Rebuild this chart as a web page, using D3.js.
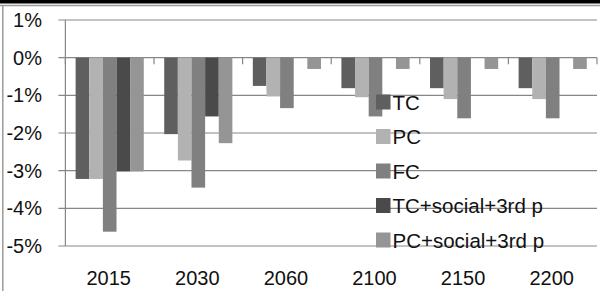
<!DOCTYPE html>
<html>
<head>
<meta charset="utf-8">
<script src="https://cdn.jsdelivr.net/npm/d3@7"></script>
<style>
  body { margin: 0; background: #fff; }
  svg { display: block; font-family: "Liberation Sans", Arial, sans-serif; }
</style>
</head>
<body>
<svg id="chart" width="600" height="291"></svg>
<script>
// data (fractions of 1)
var years = ["2015", "2030", "2060", "2100", "2150", "2200"];
var seriesNames = ["TC", "PC", "FC", "TC+social+3rd p", "PC+social+3rd p"];
var tc       = [-0.0322, -0.0203, -0.0075, -0.0081, -0.0081, -0.0081];
var pc       = [-0.0322, -0.0273, -0.0103, -0.0105, -0.0110, -0.0110];
var fc       = [-0.0462, -0.0345, -0.0134, -0.0156, -0.0161, -0.0161];
var tcSocial = [-0.0302, -0.0156, 0, 0, 0, 0];
var pcSocial = [-0.0302, -0.0227, -0.0030, -0.0030, -0.0030, -0.0030];
var yTicks = [0.01, 0, -0.01, -0.02, -0.03, -0.04, -0.05];

var seriesValues = [tc, pc, fc, tcSocial, pcSocial];
var colors = ["#5f5f5f", "#b2b2b2", "#808080", "#4a4a4a", "#959595"];

var svg = d3.select("#chart");
var plotLeft = 65.4, plotRight = 597, plotTop = 20, plotBottom = 246;

//outer frame: thick black top, thin grey lines
svg.append("rect").attr("x", 0).attr("y", 0).attr("width", 600).attr("height", 3.5).attr("fill", "#000");
svg.append("line").attr("x1", 0).attr("x2", 600).attr("y1", 5.5).attr("y2", 5.5)
    .attr("stroke", "#9a9a9a").attr("stroke-width", 1.5);
svg.append("line").attr("x1", 2.8).attr("x2", 2.8).attr("y1", 5).attr("y2", 291)
    .attr("stroke", "#9a9a9a").attr("stroke-width", 1.5);

var x = d3.scaleBand().domain(years).range([plotLeft, plotRight]).padding(0);
var xs = d3.scaleBand().domain(d3.range(seriesNames.length))
    .range([0, x.bandwidth()]).paddingInner(0).paddingOuter(0.75);
var y = d3.scaleLinear().domain([-0.05, 0.01]).range([plotBottom, plotTop]);

//gridlines
svg.append("g").selectAll("line")
    .data(yTicks)
    .enter().append("line")
    .attr("x1", plotLeft - 7).attr("x2", plotRight)
    .attr("y1", function(d) { return y(d); })
    .attr("y2", function(d) { return y(d); })
    .attr("stroke", "#878787").attr("stroke-width", 1.2);

//y axis line
svg.append("line").attr("x1", plotLeft).attr("x2", plotLeft).attr("y1", plotTop).attr("y2", plotBottom)
    .attr("stroke", "#878787").attr("stroke-width", 1.2);

//y labels
svg.append("g").selectAll("text")
    .data(yTicks)
    .enter().append("text")
    .attr("x", 42).attr("y", function(d) { return y(d); })
    .attr("dy", "0.35em")
    .attr("text-anchor", "end")
    .attr("font-size", 20)
    .attr("fill", "#111")
    .text(function(d) { return d3.format(".0%")(d).replace("−", "-"); });

//bars
var groups = svg.append("g").selectAll("g")
    .data(seriesValues)
    .enter().append("g")
    .attr("fill", function(d, i) { return colors[i]; });

groups.selectAll("rect")
    .data(function(vals, si) { return vals.map(function(v, ci) { return { v: v, s: si, c: years[ci] }; }); })
    .enter().append("rect")
    .attr("x", function(d) { return x(d.c) + xs(d.s); })
    .attr("width", xs.bandwidth())
    .attr("y", function(d) { return y(Math.max(0, d.v)); })
    .attr("height", function(d) { return Math.abs(y(d.v) - y(0)); });

//category ticks on the zero line
var tickXs = years.map(function(c) { return x(c); }).concat([plotRight]);
svg.append("g").selectAll("line")
    .data(tickXs)
    .enter().append("line")
    .attr("x1", function(d) { return d; }).attr("x2", function(d) { return d; })
    .attr("y1", y(0)).attr("y2", y(0) + 6.5)
    .attr("stroke", "#878787").attr("stroke-width", 1.2);

//x labels
svg.append("g").selectAll("text")
    .data(years)
    .enter().append("text")
    .attr("x", function(d) { return x(d) + x.bandwidth() / 2 - 1; })
    .attr("y", 285)
    .attr("text-anchor", "middle")
    .attr("font-size", 20)
    .attr("fill", "#111")
    .text(function(d) { return d; });

//legend sits inside the plot
var legend = svg.append("g").selectAll("g")
    .data(seriesNames)
    .enter().append("g")
    .attr("transform", function(d, i) { return "translate(376," + (102 + i * 34.5) + ")"; });

legend.append("rect")
    .attr("x", 0).attr("y", -7.5)
    .attr("width", 14.5).attr("height", 15)
    .attr("fill", function(d, i) { return colors[i]; });

legend.append("text")
    .attr("x", 16.5).attr("y", 7.5)
    .attr("font-size", 20.5)
    .attr("fill", "#111")
    .text(function(d) { return d; });
</script>
</body>
</html>
